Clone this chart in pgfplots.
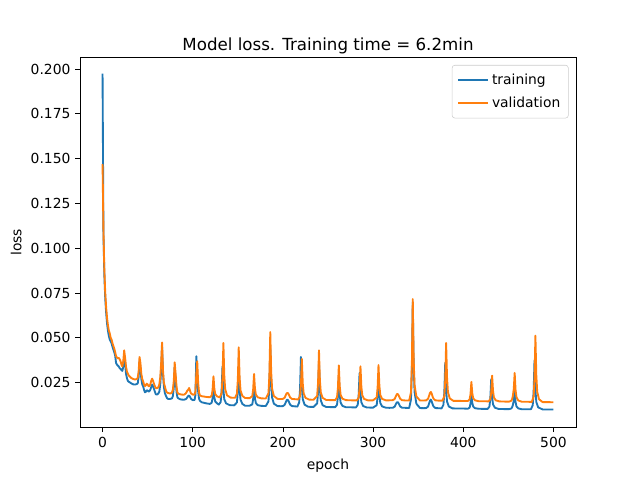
\documentclass[border=0pt]{standalone}
\usepackage{pgfplots}
\pgfplotsset{compat=1.18}
\usepackage{fontspec}
\setmainfont{DejaVu Sans}
\definecolor{tabblue}{HTML}{1F77B4}
\definecolor{taborange}{HTML}{FF7F0E}
\begin{document}
\begin{tikzpicture}
\begin{axis}[
  scale only axis,
  width=372pt, height=277.2pt,
  xmin=-25, xmax=525,
  ymin=0.0001, ymax=0.2064,
  xtick={0,100,200,300,400,500},
  ytick={0.025,0.05,0.075,0.1,0.125,0.15,0.175,0.2},
  yticklabel style={/pgf/number format/.cd,fixed,fixed zerofill,precision=3},
  /pgf/number format/assume math mode=true,
  scaled y ticks=false,
  tick align=outside,
  major tick length=3.65pt,
  tick style={black, line width=0.6pt},
  axis line style={line width=0.6pt},
  xtick pos=bottom, ytick pos=left,
  ticklabel style={font=\fontsize{10.4}{12}\selectfont},
  label style={font=\fontsize{10.4}{12}\selectfont},
  xlabel={epoch}, ylabel={loss},
  xlabel style={yshift=-2pt},
  title={Model loss. Training time = 6.2min},
  title style={font=\fontsize{12.5}{14}\selectfont, yshift=-6.5pt},
  legend style={at={(0.985,0.98)}, anchor=north east, draw=black!20, rounded corners=2pt,
    font=\fontsize{10.4}{12}\selectfont, inner xsep=4pt, inner ysep=4.5pt, row sep=3.8pt},
  legend cell align=left,
  legend image code/.code={\draw[#1, line width=1.4pt] (0pt,0pt) -- (22.5pt,0pt);},
]
\addplot[tabblue, line width=1.4pt, line join=round] coordinates {
(0,0.1975)(1,0.108)(2,0.085)(3,0.072)(4,0.064)(5,0.058)(6,0.054)(7,0.051)(8,0.049)(9,0.048)
(10,0.047)(11,0.045)(12,0.0435)(13,0.042)(14,0.040)(15,0.036)(16,0.035)(17,0.0345)(18,0.034)(19,0.033)
(20,0.0326)(21,0.032)(22,0.0315)(23,0.034)(24,0.0397)(25,0.036)(26,0.030)(27,0.0276)(28,0.026)(29,0.0255)
(30,0.0252)(32,0.0245)(34,0.024)(36,0.0239)(38,0.0242)(39,0.0245)(40,0.028)(41,0.037)(42,0.033)(43,0.027)
(44,0.024)(45,0.023)(46,0.021)(47,0.0196)(48,0.0198)(49,0.0207)(50,0.0205)(51,0.020)(52,0.0202)(53,0.021)
(54,0.0225)(55,0.0239)(56,0.023)(57,0.0215)(58,0.020)(59,0.0185)(60,0.0183)(61,0.0185)(62,0.019)(63,0.020)
(64,0.024)(65,0.032)(66,0.045)(67,0.030)(68,0.023)(69,0.0193)(70,0.018)(71,0.0168)(72,0.016)(74,0.0158)
(76,0.016)(77,0.0162)(78,0.0175)(79,0.022)(80,0.0337)(81,0.027)(82,0.020)(83,0.0168)(84,0.0162)(86,0.0157)
(88,0.0155)(90,0.0154)(92,0.0157)(93,0.016)(94,0.0168)(95,0.0175)(96,0.0178)(97,0.017)(98,0.016)(100,0.0152)
(102,0.0153)(103,0.018)(104,0.0397)(105,0.030)(106,0.020)(107,0.016)(108,0.0148)(110,0.0140)(115,0.0134)(119,0.0131)
(121,0.0137)(122,0.0162)(123,0.022)(124,0.0166)(125,0.0144)(127,0.0134)(129,0.0127)
(131,0.0142)(132,0.0200)(133,0.034)(134,0.0211)(135,0.0157)(137,0.0134)(141,0.0124)(146,0.0123)
(149,0.0139)(150,0.0198)(151,0.034)(152,0.0209)(153,0.0155)(155,0.0131)(158,0.0121)(163,0.0121)
(166,0.0128)(167,0.0157)(168,0.0226)(169,0.0162)(170,0.0136)(172,0.0124)(176,0.0120)(181,0.0119)
(184,0.0145)(185,0.0231)(186,0.044)(187,0.0247)(188,0.0167)(190,0.0132)(194,0.0119)(198,0.0118)
(200,0.0119)(202,0.0126)(203,0.0138)(204,0.015)(205,0.0155)(206,0.0150)(207,0.0138)(208,0.0127)(210,0.0119)
(214,0.0117)(216,0.0116)(218,0.0138)(219,0.0213)(220,0.0393)(221,0.0227)(222,0.0158)(224,0.0127)(228,0.0115)(234,0.0114)
(238,0.0134)(239,0.0200)(240,0.036)(241,0.0212)(242,0.0151)(244,0.0124)(248,0.0114)(254,0.0113)(258,0.0113)
(260,0.0126)(261,0.0171)(262,0.028)(263,0.018)(264,0.0138)(266,0.012)(270,0.0112)(276,0.0112)(281,0.0111)
(283,0.0126)(284,0.0179)(285,0.0304)(286,0.0188)(287,0.014)(289,0.0119)(293,0.0111)(300,0.0110)
(304,0.0124)(305,0.017)(306,0.028)(307,0.0178)(308,0.0136)(310,0.0117)(314,0.0110)(318,0.0109)
(322,0.011)(324,0.0116)(325,0.0127)(326,0.0137)(327,0.0142)(328,0.0137)(329,0.0127)(330,0.0117)(332,0.011)
(336,0.0109)(340,0.0108)(342,0.0155)(343,0.0315)(344,0.070)(345,0.0345)(346,0.0197)(348,0.0132)(352,0.0108)(356,0.0107)
(359,0.0108)(361,0.0117)(362,0.0132)(363,0.0148)(364,0.0155)(365,0.0145)(366,0.0129)(367,0.0117)(369,0.0108)
(372,0.0107)(376,0.0106)(378,0.0126)(379,0.0195)(380,0.036)(381,0.0208)(382,0.0144)(384,0.0116)(388,0.0106)
(395,0.0105)(401,0.0105)(405,0.0104)(407,0.011)(408,0.0132)(409,0.0183)(410,0.0136)(411,0.0116)(413,0.0107)
(417,0.0104)(423,0.0103)(427,0.0103)(429,0.0116)(430,0.0161)(431,0.027)(432,0.017)(433,0.0128)(435,0.011)
(439,0.0103)(446,0.0102)(451,0.0102)(453,0.0105)(454,0.011)(455,0.0125)(456,0.0150)(457,0.020)(458,0.0141)(459,0.0117)(461,0.0106)
(465,0.0101)(471,0.0101)(475,0.0101)(477,0.0123)(478,0.0196)(479,0.0373)(480,0.021)(481,0.0142)(483,0.0112)
(488,0.0100)(494,0.0100)(500,0.0100)
};
\addlegendentry{training}
\addplot[taborange, line width=1.4pt, line join=round] coordinates {
(0,0.147)(1,0.110)(2,0.088)(3,0.075)(4,0.067)(5,0.061)(6,0.057)(7,0.054)(8,0.0525)(9,0.050)
(10,0.049)(11,0.047)(12,0.0455)(13,0.044)(14,0.042)(15,0.0397)(16,0.039)(17,0.0385)(18,0.0388)(19,0.038)
(20,0.0369)(21,0.035)(22,0.034)(23,0.037)(24,0.043)(25,0.039)(26,0.034)(27,0.0313)(28,0.030)(29,0.029)
(30,0.0285)(32,0.0275)(34,0.027)(36,0.0267)(38,0.027)(39,0.0276)(40,0.031)(41,0.0393)(42,0.036)(43,0.030)
(44,0.027)(45,0.0257)(46,0.024)(47,0.023)(48,0.0235)(49,0.0244)(50,0.024)(51,0.023)(52,0.023)(53,0.024)
(54,0.026)(55,0.0272)(56,0.026)(57,0.0244)(58,0.023)(59,0.022)(60,0.0218)(61,0.022)(62,0.0225)(63,0.024)
(64,0.028)(65,0.036)(66,0.0474)(67,0.032)(68,0.025)(69,0.023)(70,0.021)(71,0.0198)(72,0.0193)(74,0.019)
(76,0.019)(77,0.0195)(78,0.021)(79,0.026)(80,0.0363)(81,0.030)(82,0.023)(83,0.0195)(84,0.0188)(86,0.0185)
(88,0.0183)(90,0.0182)(92,0.0188)(93,0.0195)(94,0.0205)(95,0.021)(96,0.022)(97,0.0205)(98,0.019)(100,0.0183)
(102,0.0183)(103,0.020)(104,0.030)(105,0.0369)(106,0.025)(107,0.0195)(108,0.0178)(110,0.0174)(115,0.0170)(119,0.0168)
(121,0.0177)(122,0.0209)(123,0.0285)(124,0.0215)(125,0.0186)(127,0.0173)(130,0.0167)
(132,0.0191)(133,0.0273)(134,0.0471)(135,0.0289)(136,0.0213)(138,0.0179)(142,0.0166)(147,0.0165)
(149,0.0188)(150,0.0264)(151,0.0447)(152,0.0278)(153,0.0207)(155,0.0176)(158,0.0164)(163,0.0163)
(166,0.0174)(167,0.0210)(168,0.0298)(169,0.0217)(170,0.0183)(172,0.0168)(176,0.0162)(181,0.0161)
(184,0.0190)(185,0.0290)(186,0.0532)(187,0.0309)(188,0.0216)(190,0.0175)(194,0.0159)(198,0.0158)
(200,0.0159)(202,0.0166)(203,0.0178)(204,0.0189)(205,0.0193)(206,0.0189)(207,0.0178)(208,0.0167)(210,0.0159)
(214,0.0157)(217,0.0156)(219,0.0174)(220,0.0235)(221,0.0382)(222,0.0246)(223,0.0190)(225,0.0165)(229,0.0155)(234,0.0154)
(238,0.0176)(239,0.0251)(240,0.043)(241,0.0264)(242,0.0195)(244,0.0165)(248,0.0153)(254,0.0152)(258,0.0152)
(260,0.0168)(261,0.0220)(262,0.0346)(263,0.0230)(264,0.0181)(266,0.0160)(270,0.0152)(276,0.0151)(282,0.0151)
(284,0.0166)(285,0.0218)(286,0.0341)(287,0.0227)(288,0.018)(290,0.0159)(294,0.0151)(300,0.0151)
(304,0.0167)(305,0.022)(306,0.0348)(307,0.023)(308,0.0181)(310,0.0159)(314,0.0151)(318,0.0151)
(322,0.0152)(324,0.0159)(325,0.0171)(326,0.0182)(327,0.0187)(328,0.0182)(329,0.0171)(330,0.016)(332,0.0152)
(336,0.0150)(340,0.0150)(342,0.0195)(343,0.0348)(344,0.0716)(345,0.0376)(346,0.0235)(348,0.0173)(352,0.0150)(356,0.0150)
(359,0.0151)(361,0.016)(362,0.0175)(363,0.0191)(364,0.0198)(365,0.0188)(366,0.0172)(367,0.016)(369,0.0151)
(373,0.0149)(377,0.0149)(379,0.0175)(380,0.0262)(381,0.0471)(382,0.0278)(383,0.0197)(385,0.0162)(389,0.0148)
(395,0.0148)(401,0.0147)(405,0.0147)(407,0.0156)(408,0.0184)(409,0.0254)(410,0.019)(411,0.0163)(413,0.0151)
(417,0.0146)(423,0.0146)(428,0.0145)(430,0.0157)(431,0.0195)(432,0.0289)(433,0.0203)(434,0.0167)(436,0.0151)
(440,0.0145)(446,0.0144)(451,0.0144)(453,0.0148)(454,0.0155)(455,0.0175)(456,0.0215)(457,0.0304)(458,0.0208)(459,0.0168)(461,0.015)
(465,0.0143)(471,0.0143)(476,0.0142)(478,0.0172)(479,0.0272)(480,0.0512)(481,0.0290)(482,0.0198)(484,0.0157)
(488,0.0141)(494,0.0141)(500,0.0140)
};
\addlegendentry{validation}
\end{axis}
\path ([xshift=-60pt,yshift=-39.6pt]current axis.south west) rectangle ([xshift=48pt,yshift=43.2pt]current axis.north east);
\end{tikzpicture}
\end{document}
